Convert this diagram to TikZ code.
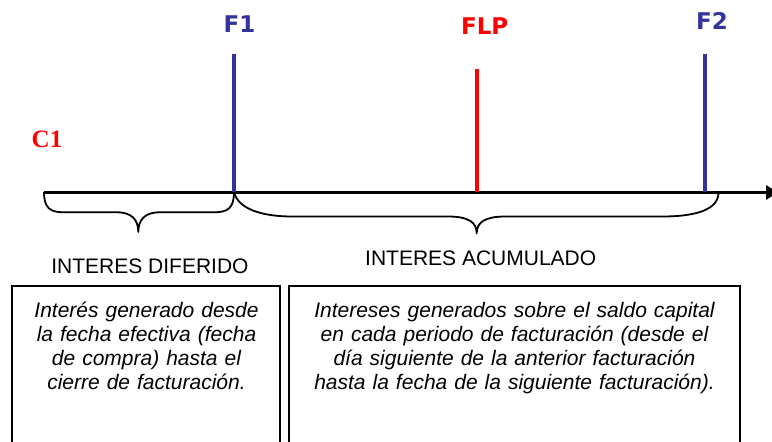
\documentclass[tikz,border=0pt]{standalone}
\usepackage{fontspec}
\setmainfont{Liberation Sans}
\newfontfamily\labelfont{DejaVu Sans}
\newfontfamily\cfont{Liberation Serif}
\usetikzlibrary{arrows.meta}
\definecolor{fblue}{HTML}{333399}
\definecolor{fred}{HTML}{FF0000}
\begin{document}
\begin{tikzpicture}[x=1pt,y=-1pt,
  datelabel/.style={anchor=base,inner sep=0pt,font=\labelfont\bfseries\fontsize{23}{26}\selectfont},
  dateline/.style={line width=4pt},
  bracepath/.style={line width=1.8pt,line join=round},
  heading/.style={anchor=base,inner sep=0pt,font=\fontsize{21}{24}\selectfont},
  boxtext/.style={anchor=base,inner sep=0pt,align=center,font=\itshape\fontsize{21}{24}\selectfont},
  infobox/.style={line width=2pt}]
\useasboundingbox (0,0) rectangle (772,442);

% axis
\coordinate (axL) at (44,192.5);
\coordinate (axR) at (778,192.5);
\draw[line width=3.6pt,-{Triangle[length=12pt,width=14pt]}] (axL) -- (axR);

% date lines
\coordinate (f1top) at (234.3,54);
\coordinate (f1bot) at (234.3,192);
\coordinate (flptop) at (476.7,68.5);
\coordinate (flpbot) at (476.7,192);
\coordinate (f2top) at (704.5,54);
\coordinate (f2bot) at (704.5,192);
\draw[dateline,fblue] (f1top) -- (f1bot);
\draw[dateline,fred] (flptop) -- (flpbot);
\draw[dateline,fblue] (f2top) -- (f2bot);

% labels
\node[datelabel,text=fblue] (F1) at (239.5,32) {F1};
\node[datelabel,text=fred] (FLP) at (484.7,34.3) {FLP};
\node[datelabel,text=fblue] (F2) at (712,29.3) {F2};
\node[anchor=base,inner sep=0pt,text=fred,font=\cfont\bfseries\fontsize{25}{28}\selectfont] (C1) at (47,147.3) {C1};

% brace 1
\draw[bracepath] (44,192) .. controls (44,208) and (50,212.3) .. (64,212.3)
  -- (117,212.3) .. controls (132,212.3) and (138.3,220) .. (138.3,232)
  .. controls (138.3,220) and (144.6,212.3) .. (159.6,212.3)
  -- (214,212.3) .. controls (228,212.3) and (234,208) .. (234,192);
% brace 2
\draw[bracepath] (234,192) .. controls (238,209) and (262,216.5) .. (292,216.5)
  -- (448,216.5) .. controls (468,216.5) and (476.7,222) .. (476.7,233.3)
  .. controls (476.7,222) and (485.4,216.5) .. (505.4,216.5)
  -- (662,216.5) .. controls (700,216.5) and (718.5,208) .. (718.5,192.5);

% headings
\node[heading] (hdif) at (150,273) {INTERES DIFERIDO};
\node[heading] (hacu) at (480.7,265) {INTERES ACUMULADO};

% boxes
\draw[infobox] (12,286) rectangle (280,460);
\draw[infobox] (289,286) rectangle (740,460);

\node[boxtext,text width=262pt] (tdif) at (146.5,317)
  {Interés generado desde\\la fecha efectiva (fecha\\de compra) hasta el\\cierre de facturación.};
\node[boxtext,text width=440pt] (tacu) at (514.5,317)
  {Intereses generados sobre el saldo capital\\en cada periodo de facturación (desde el\\día siguiente de la anterior facturación\\hasta la fecha de la siguiente facturación).};
\end{tikzpicture}
\end{document}
